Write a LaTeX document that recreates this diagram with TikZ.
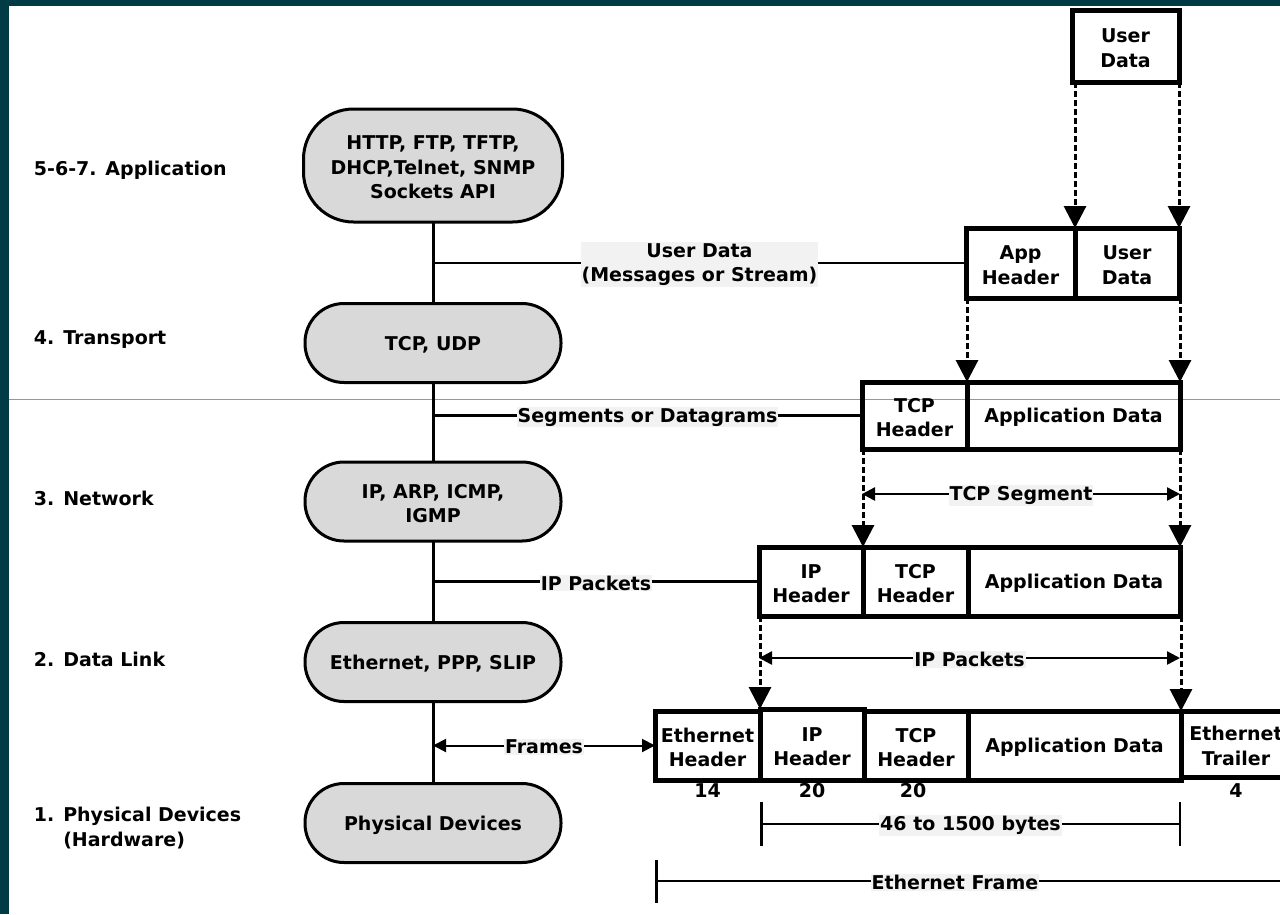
\documentclass[tikz,border=0pt]{standalone}
\usepackage{fontspec}
\setmainfont{DejaVu Sans}
\usetikzlibrary{arrows.meta,calc}

\definecolor{frameteal}{RGB}{1,59,70}
\definecolor{pillgray}{RGB}{217,217,217}
\definecolor{tagbg}{RGB}{242,242,242}
\definecolor{rulegray}{RGB}{140,155,162}

% one cell of a protocol data unit: name, x1, y1, x2, y2, text
\newcommand\pcell[6]{%
  \node[cell, minimum width={(#4-#2)*1pt}, minimum height={(#5-#3)*1pt}]
    (#1) at ({(#2+#4)/2},{(#3+#5)/2}) {};
  \node[celltext] (#1-t) at (#1.center) {#6};}

\begin{document}
\begin{tikzpicture}[x=1pt,y=-1pt,
  every node/.style={font=\bfseries\fontsize{19}{24.5}\selectfont, inner sep=0pt, outer sep=0pt},
  layer/.style={draw, line width=3pt, fill=pillgray, rounded corners=39pt,
                minimum width=256pt, minimum height=79pt},
  cell/.style={draw, line width=5pt},
  celltext/.style={align=center, yshift=-2pt},
  sidename/.style={anchor=west, align=left, yshift=-2pt},
  tag/.style={fill=tagbg, inner sep=1pt, align=center, yshift=-1.5pt},
  trunk/.style={line width=3pt},
  branch/.style={line width=2.2pt},
  dropline/.style={line width=3pt, dash pattern=on 6pt off 3pt,
                   -{Triangle[length=22pt,width=22pt]}},
  span/.style={line width=2.5pt,
               {Triangle[length=13pt,width=13pt]}-{Triangle[length=13pt,width=13pt]}},
  bar/.style={line width=2.5pt, {Bar[width=44pt]}-{Bar[width=44pt]}},
]
\useasboundingbox (0,0) rectangle (1280,914);
\clip (0,0) rectangle (1280,914);

% page frame and divider rule
\fill[frameteal] (0,0) rectangle (1280,6);
\fill[frameteal] (0,0) rectangle (9,914);
\draw[rulegray, line width=1pt] (9,399.5) -- (1280,399.5);

% layer names
\node[sidename] (l7) at (34,168) {5-6-7. Application};
\node[sidename] (l4) at (34,338) {4. Transport};
\node[sidename] (l3) at (34,496) {3. Network};
\node[sidename] (l2) at (34,657) {2. Data Link};
\node[sidename] (l1) at (34,826) {1. Physical Devices\\\phantom{1. }(Hardware)};

% protocol stack
\node[layer, minimum width=259pt, minimum height=113pt, rounded corners=50pt]
  (p7) at (433,165.5) {};
\node[layer] (p4) at (433,343) {};
\node[layer] (p3) at (433,501.5) {};
\node[layer] (p2) at (433,662) {};
\node[layer] (p1) at (433,823) {};
\node[celltext] (p7-t) at (p7.center) {HTTP, FTP, TFTP,\\DHCP,Telnet, SNMP\\Sockets API};
\node[celltext] (p4-t) at (p4.center) {TCP, UDP};
\node[celltext] (p3-t) at (p3.center) {IP, ARP, ICMP,\\IGMP};
\node[celltext] (p2-t) at (p2.center) {Ethernet, PPP, SLIP};
\node[celltext] (p1-t) at (p1.center) {Physical Devices};

\draw[trunk] (p7.south) -- (p4.north);
\draw[trunk] (p4.south) -- (p3.north);
\draw[trunk] (p3.south) -- (p2.north);
\draw[trunk] (p2.south) -- (p1.north);

% encapsulation rows
\pcell{ud0}{1072}{10}{1179}{82}{User\\Data}
\pcell{apph}{966}{228}{1075}{298}{App\\Header}
\pcell{ud1}{1075}{228}{1179}{298}{User\\Data}
\pcell{tcph1}{862}{382}{967}{449}{TCP\\Header}
\pcell{appd1}{967}{382}{1180}{449}{Application Data}
\pcell{iph2}{759}{547}{863}{616}{IP\\Header}
\pcell{tcph2}{863}{547}{968}{616}{TCP\\Header}
\pcell{appd2}{968}{547}{1180}{616}{Application Data}
\pcell{ethh}{655}{711}{760}{780}{Ethernet\\Header}
\pcell{iph3}{760}{709}{864}{780}{IP\\Header}
\pcell{tcph3}{864}{711}{968}{780}{TCP\\Header}
\pcell{appd3}{968}{711}{1181}{780}{Application Data}
\pcell{etht}{1181}{711}{1291}{777}{Ethernet\\Trailer}

% field sizes
\node (b14) at ($(ethh.south)+(0,11)$) {14};
\node (b20a) at ($(iph3.south)+(0,11)$) {20};
\node (b20b) at ($(tcph3.south)+(-3,11)$) {20};
\node (b4) at ($(etht.south |- ethh.south)+(0,11)$) {4};

% dashed drops between rows
\draw[dropline] (ud1.north west |- ud0.south) -- (ud1.north west);
\draw[dropline] (ud1.north east |- ud0.south) -- (ud1.north east);
\draw[dropline] (tcph1.north east |- apph.south) -- (tcph1.north east);
\draw[dropline] (appd1.north east |- ud1.south) -- (appd1.north east);
\draw[dropline] (iph2.north east |- tcph1.south) -- (iph2.north east);
\draw[dropline] (appd2.north east |- appd1.south) -- (appd2.north east);
\draw[dropline] (iph3.north west |- iph2.south) -- (iph3.north west);
\draw[dropline] (appd3.north east |- appd2.south) -- (appd3.north east);

% spans
\coordinate (segY) at (0,494);
\coordinate (pktY) at (0,658);
\draw[span] (tcph1.west |- segY) -- node[tag]{TCP Segment} (appd1.east |- segY);
\draw[span] (iph2.west |- pktY) -- node[tag]{IP Packets} (appd2.east |- pktY);

% branches from the stack
\draw[branch] (p7.south |- apph.west) -- node[tag]{User Data\\(Messages or Stream)} (apph.west);
\draw[branch] (p4.south |- tcph1.west) -- node[tag]{Segments or Datagrams} (tcph1.west);
\draw[branch] (p3.south |- iph2.west) -- node[tag]{IP Packets} (iph2.west);
\draw[span, line width=2pt] (p2.south |- ethh.west) -- node[tag]{Frames} (ethh.west);

% size bars
\coordinate (bytesY) at (0,824);
\coordinate (frameY) at (0,881);
\coordinate (frameEnd) at (1300,881);
\draw[bar] (iph3.west |- bytesY) -- node[tag]{46 to 1500 bytes} (appd3.east |- bytesY);
\draw[line width=2.5pt, {Bar[width=43pt]}-] (ethh.west |- frameY) -- node[tag, pos=0.465]{Ethernet Frame} (frameEnd);
\end{tikzpicture}
\end{document}
